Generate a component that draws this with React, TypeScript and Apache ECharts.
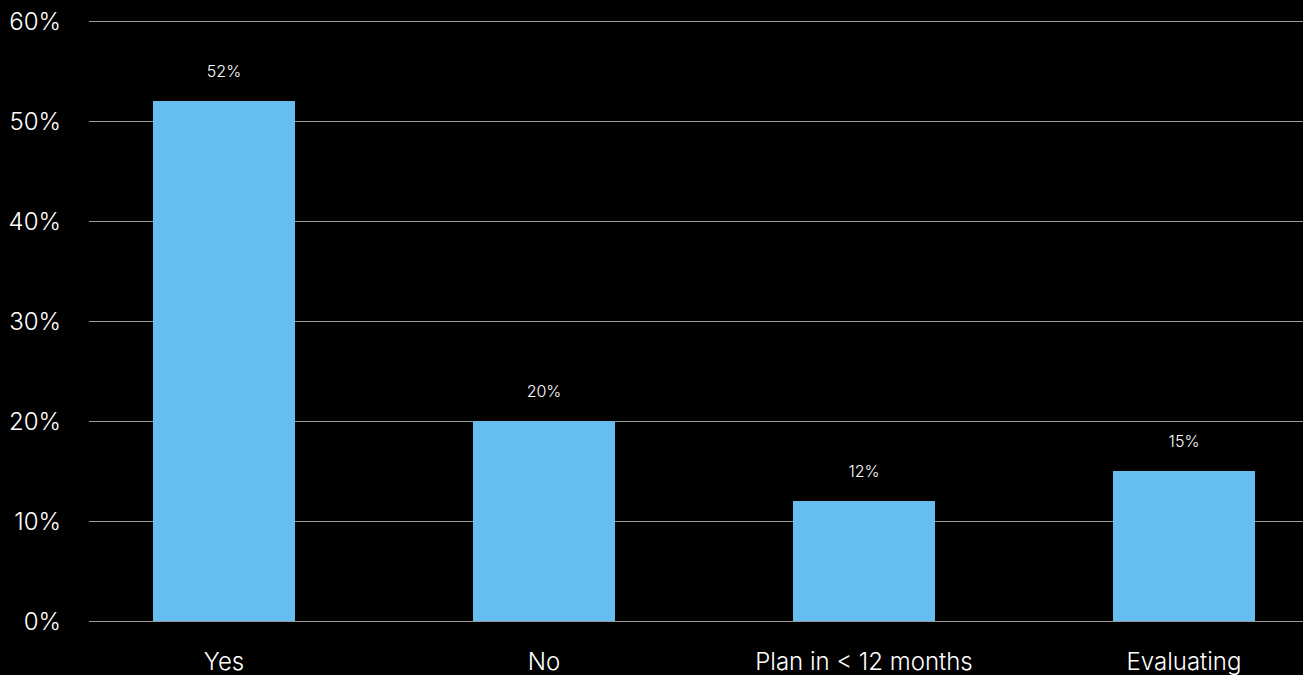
import React, { useEffect, useRef } from "react";
import * as echarts from "echarts";

// Survey answers and their share of respondents (%)
const categories = ["Yes", "No", "Plan in < 12 months", "Evaluating"];
const shares = [52, 20, 12, 15];
const yTicks = { min: 0, max: 60, interval: 10 };

const FONT = "Inter, 'Liberation Sans', Arial, sans-serif";

export default function App() {
  const ref = useRef<HTMLDivElement>(null);

  useEffect(() => {
    document.body.style.margin = "0";
    document.body.style.background = "#000";
    const chart = echarts.init(ref.current!, null, { renderer: "svg" });
    chart.setOption({
      animation: false,
      backgroundColor: "#000000",
      grid: [
        // bars: four 320px-wide category bands, the last one running past the edge
        {
          left: 64,
          width: 1280,
          top: 21,
          height: 600,
          containLabel: false,
          outerBoundsMode: "none",
        },
        // value scale, gridlines and percentage labels
        {
          left: 89,
          right: 0,
          top: 21,
          height: 600,
          containLabel: false,
          outerBoundsMode: "none",
        },
      ],
      xAxis: [
        {
          type: "category",
          gridIndex: 0,
          data: categories,
          axisLine: { show: false },
          axisTick: { show: false },
          axisLabel: {
            color: "#ffffff",
            fontFamily: FONT,
            fontSize: 24,
            fontWeight: 300,
            margin: 28,
            interval: 0,
          },
        },
        { type: "value", gridIndex: 1, show: false, min: 0, max: 1 },
      ],
      yAxis: [
        {
          type: "value",
          gridIndex: 0,
          min: yTicks.min,
          max: yTicks.max,
          interval: yTicks.interval,
          show: false,
        },
        {
          type: "value",
          gridIndex: 1,
          min: yTicks.min,
          max: yTicks.max,
          interval: yTicks.interval,
          axisLine: { show: false },
          axisTick: { show: false },
          splitLine: { show: true, lineStyle: { color: "#9a9a9a", width: 1 } },
          axisLabel: {
            color: "#ffffff",
            fontFamily: FONT,
            fontSize: 24,
            fontWeight: 300,
            margin: 28,
            formatter: (v: number) => `${v}%`,
          },
        },
      ],
      series: [
        {
          type: "bar",
          xAxisIndex: 0,
          yAxisIndex: 0,
          data: shares,
          barWidth: 142,
          z: 3,
          itemStyle: { color: "#65bdf1" },
          label: {
            show: true,
            position: "top",
            distance: 22,
            color: "#ffffff",
            fontFamily: FONT,
            fontSize: 16,
            fontWeight: 300,
            formatter: (p: any) => `${p.value}%`,
          },
        },
      ],
    });
    return () => chart.dispose();
  }, []);

  return <div ref={ref} style={{ width: 1303, height: 675 }} />;
}
